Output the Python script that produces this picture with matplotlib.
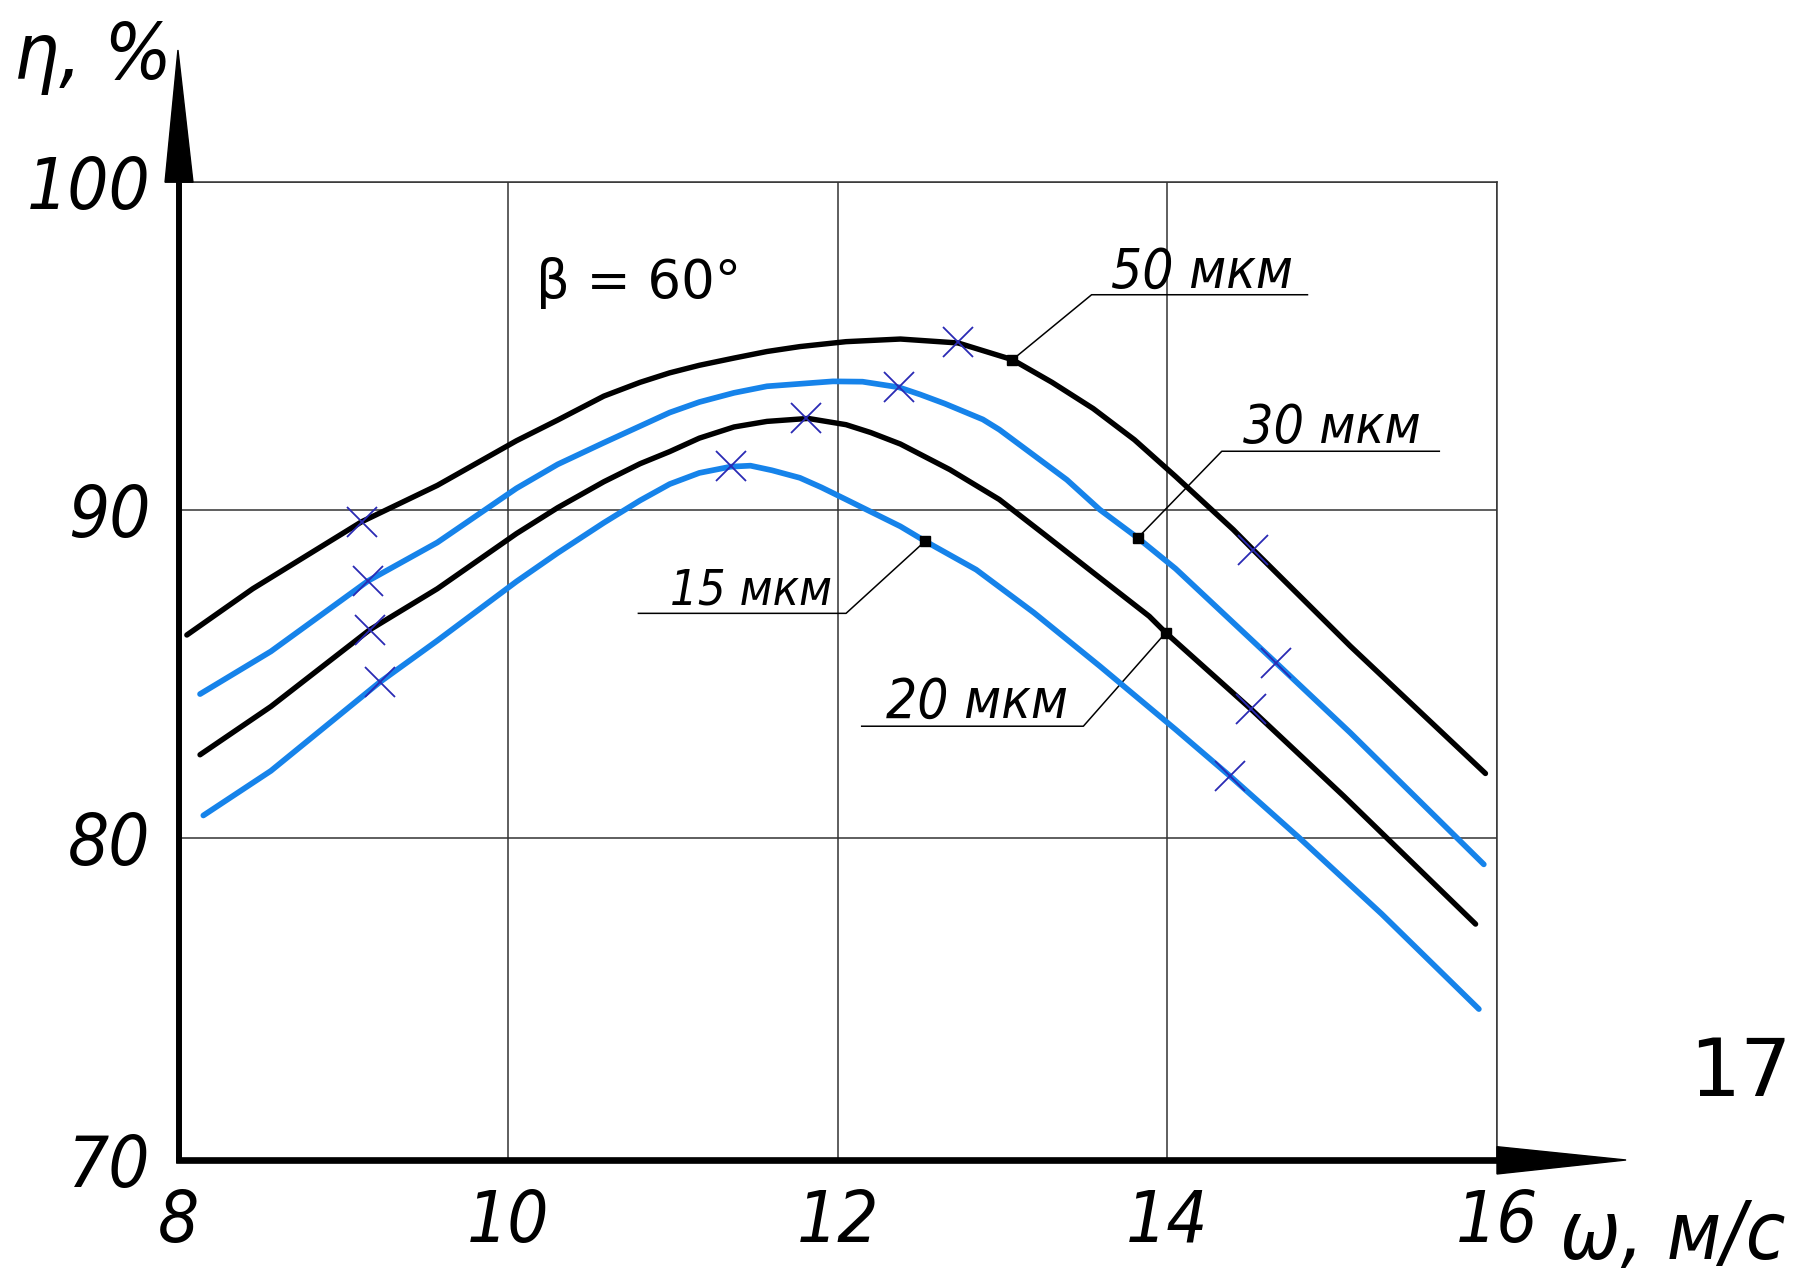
import matplotlib.pyplot as plt
from matplotlib import font_manager
from matplotlib.patches import Polygon

# curves: omega (m/s) vs eta (%)
w_50 = [8.05, 8.45, 9.11, 9.57, 10.05, 10.30, 10.58, 10.80, 10.98, 11.16, 11.37, 11.57, 11.77, 12.05, 12.38, 12.73, 13.06, 13.30, 13.55, 13.80, 14.05, 14.40, 14.52, 15.11, 15.93]
eta_50 = [86.20, 87.61, 89.65, 90.76, 92.12, 92.75, 93.48, 93.90, 94.19, 94.42, 94.64, 94.84, 94.99, 95.14, 95.22, 95.10, 94.59, 93.90, 93.10, 92.15, 91.03, 89.41, 88.80, 85.86, 81.98]

w_30 = [8.13, 8.56, 9.15, 9.57, 10.05, 10.30, 10.58, 10.98, 11.16, 11.37, 11.57, 11.97, 12.15, 12.37, 12.50, 12.65, 12.88, 12.98, 13.39, 13.59, 13.82, 14.05, 14.66, 15.11, 15.92]
eta_30 = [84.40, 85.70, 87.85, 89.02, 90.67, 91.40, 92.06, 92.98, 93.30, 93.58, 93.78, 93.93, 93.92, 93.75, 93.53, 93.25, 92.77, 92.46, 90.93, 90.02, 89.16, 88.22, 85.35, 83.22, 79.21]

w_20 = [8.13, 8.56, 9.16, 9.57, 10.05, 10.30, 10.58, 10.80, 10.98, 11.16, 11.37, 11.57, 11.82, 12.05, 12.20, 12.38, 12.68, 12.98, 13.25, 13.55, 13.89, 13.99, 14.51, 15.07, 15.87]
eta_20 = [82.55, 84.02, 86.36, 87.61, 89.29, 90.08, 90.87, 91.42, 91.79, 92.20, 92.54, 92.71, 92.80, 92.61, 92.37, 92.02, 91.24, 90.33, 89.28, 88.10, 86.77, 86.27, 83.93, 81.29, 77.39]

w_15 = [8.15, 8.56, 9.22, 9.57, 10.05, 10.30, 10.58, 10.80, 10.98, 11.16, 11.35, 11.47, 11.60, 11.77, 11.90, 12.05, 12.38, 12.53, 12.84, 13.19, 13.59, 14.05, 14.38, 14.80, 15.30, 15.89]
eta_15 = [80.70, 82.06, 84.76, 86.03, 87.83, 88.70, 89.62, 90.30, 90.80, 91.14, 91.33, 91.36, 91.22, 90.99, 90.70, 90.33, 89.51, 89.06, 88.19, 86.88, 85.25, 83.32, 81.90, 80.02, 77.70, 74.80]

# experimental points (crosses)
xw_50, xeta_50 = [9.11, 12.73, 14.52], [89.65, 95.12, 88.80]
xw_30, xeta_30 = [9.15, 12.37, 14.66], [87.85, 93.76, 85.35]
xw_20, xeta_20 = [9.16, 11.81, 14.51], [86.36, 92.81, 83.93]
xw_15, xeta_15 = [9.22, 11.35, 14.38], [84.76, 91.36, 81.90]

# leader anchor points (small squares)
lw_pts = [13.06, 13.82, 13.99, 12.53]
leta_pts = [94.59, 89.16, 86.27, 89.06]
labels = ['50 мкм', '30 мкм', '20 мкм', '15 мкм']

xticks = [8, 10, 12, 14, 16]
yticks = [70.2, 80, 90, 100]
ytick_labels = ['70', '80', '90', '100']

black = '#000000'
blue = '#1683EA'
cross_col = '#2a2ab4'
grid_col = '#333333'

# a narrow sans italic looks closest to the drafting font; fall back to DejaVu Sans
narrow = None
for f in font_manager.fontManager.ttflist:
    if 'Serif' in f.name or 'Mono' in f.name:
        continue
    if f.stretch in ('condensed', 'semi-condensed', 'extra-condensed', 'ultra-condensed') or 'Narrow' in f.name:
        if f.style in ('italic', 'oblique') and f.weight in (400, 'normal', 'regular', 'book'):
            narrow = f
            break
if narrow is not None:
    gost = dict(fontproperties=font_manager.FontProperties(fname=narrow.fname))
else:
    gost = dict(family='DejaVu Sans', style='italic')

fig = plt.figure(figsize=(18.06, 12.75), dpi=100)
ax = fig.add_axes([0.0989, 0.0902, 0.7300, 0.7669])

ax.set_xlim(8, 16)
ax.set_ylim(70.2, 100)

ax.plot(w_50, eta_50, color=black, lw=3.9, solid_capstyle='round', solid_joinstyle='round', zorder=3)
ax.plot(w_30, eta_30, color=blue, lw=4.1, solid_capstyle='round', solid_joinstyle='round', zorder=3)
ax.plot(w_20, eta_20, color=black, lw=3.9, solid_capstyle='round', solid_joinstyle='round', zorder=3)
ax.plot(w_15, eta_15, color=blue, lw=4.1, solid_capstyle='round', solid_joinstyle='round', zorder=3)

for xs, ys in [(xw_50, xeta_50), (xw_30, xeta_30), (xw_20, xeta_20), (xw_15, xeta_15)]:
    ax.plot(xs, ys, ls='none', marker='x', ms=22, mew=1.3, color=cross_col, zorder=4)

ax.plot(lw_pts, leta_pts, ls='none', marker='s', ms=6.5, color=black, zorder=5)

# leader lines: anchor -> kink -> horizontal shelf, label on the shelf
leaders = [
    (13.54, 96.57, 14.85, 13.66, 96.78, 182),
    (14.33, 91.80, 15.65, 14.46, 92.06, 178),
    (13.49, 83.42, 12.145, 12.29, 83.67, 182),
    (12.05, 86.86, 10.79, 10.98, 87.13, 162),
]
fig.canvas.draw()
rend = fig.canvas.get_renderer()


def fit(t, width_px, max_size):
    w = t.get_window_extent(rend).width
    t.set_fontsize(min(max_size, t.get_fontsize() * width_px / w))


for i, (kx, ky, ex, tx, ty, wpx) in enumerate(leaders):
    ax.plot([lw_pts[i], kx, ex], [leta_pts[i], ky, ky], color=black, lw=1.1, zorder=2)
    t = ax.text(tx, ty, labels[i], fontsize=52, ha='left', va='baseline', **gost)
    fit(t, wpx, 52)

ax.text(10.17, 96.47, 'β = 60°', fontsize=38, family='DejaVu Sans', ha='left', va='baseline')

# grid and frame
ax.grid(True, color=grid_col, lw=1.1)
ax.set_axisbelow(True)
ax.spines['top'].set_color(grid_col)
ax.spines['top'].set_linewidth(1.1)
ax.spines['right'].set_color(grid_col)
ax.spines['right'].set_linewidth(1.1)
ax.spines['left'].set_linewidth(4.3)
ax.spines['bottom'].set_linewidth(4.8)

ax.set_xticks(xticks)
ax.set_xticklabels([str(t) for t in xticks], **gost)
ax.set_yticks(yticks)
ax.set_yticklabels(ytick_labels, **gost)
ax.tick_params(length=0, pad=20)

# tick label size: make "100" about as wide as in the drawing
for lab in ax.get_xticklabels() + ax.get_yticklabels():
    lab.set_fontsize(60)
fig.canvas.draw()
w100 = ax.get_yticklabels()[-1].get_window_extent(rend).width
tsize = min(60, 60 * 124 / w100)
for lab in ax.get_xticklabels() + ax.get_yticklabels():
    lab.set_fontsize(tsize)

# axis arrows
ax.add_patch(Polygon([(-0.0103, 1.0), (0.0109, 1.0), (-0.0005, 1.1352)], closed=True,
                     transform=ax.transAxes, clip_on=False, color=black, zorder=6))
ax.add_patch(Polygon([(1.0, 0.0136), (1.0, -0.0143), (1.0979, 0.0)], closed=True,
                     transform=ax.transAxes, clip_on=False, color=black, zorder=6))

t = fig.text(0.0955, 0.955, 'η, %', fontsize=58, ha='right', va='center', **gost)
fit(t, 158, 58)
t = fig.text(0.864, 0.030, 'ω, м/с', fontsize=58, ha='left', va='center', **gost)
fit(t, 235, 58)
fig.text(0.992, 0.158, '17', fontsize=58, family='DejaVu Sans', ha='right', va='center')

fig.savefig('out.png', dpi=100)
